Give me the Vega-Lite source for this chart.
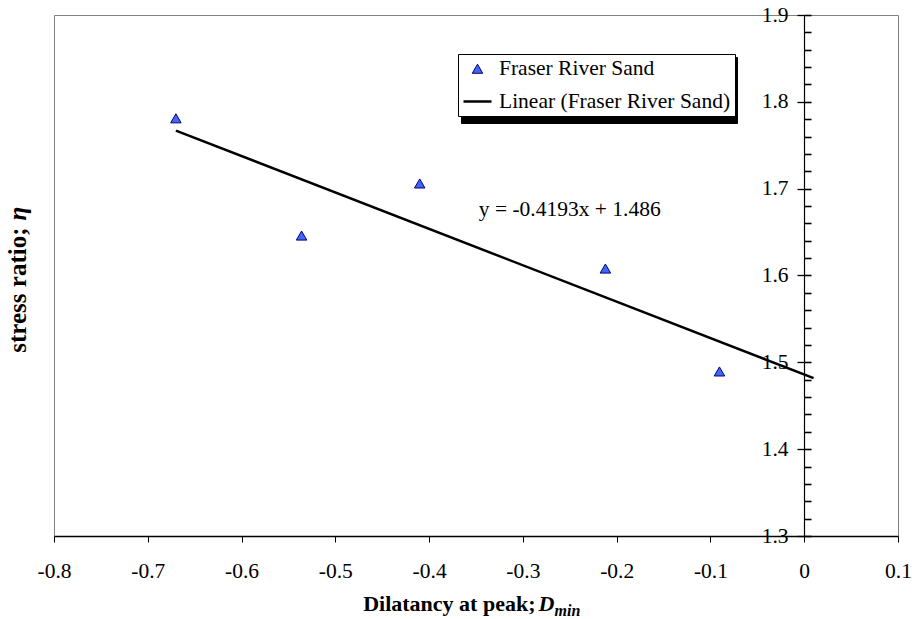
{
  "$schema": "https://vega.github.io/schema/vega-lite/v6.json",
  "width": 844,
  "height": 521,
  "autosize": {"type": "none"},
  "padding": {"left": 54, "top": 15, "right": 14, "bottom": 83},
  "background": "white",
  "config": {
    "view": {"stroke": "#808080", "strokeWidth": 1},
    "font": "Liberation Serif",
    "text": {"font": "Liberation Serif"},
    "axis": {"labelFont": "Liberation Serif", "titleFont": "Liberation Serif", "labelColor": "black", "titleColor": "black", "domainColor": "black", "tickColor": "black", "grid": false, "labelFlush": false, "labelOverlap": false},
    "legend": {"labelFont": "Liberation Serif", "titleFont": "Liberation Serif"}
  },
  "resolve": {"axis": {"x": "independent", "y": "independent"}},
  "layer": [
    {
      "data": {"values": [
        {"series": "Fraser River Sand", "x": -0.670, "y": 1.781},
        {"series": "Fraser River Sand", "x": -0.536, "y": 1.646},
        {"series": "Fraser River Sand", "x": -0.410, "y": 1.706},
        {"series": "Fraser River Sand", "x": -0.212, "y": 1.608},
        {"series": "Fraser River Sand", "x": -0.0904, "y": 1.4895}
      ]},
      "mark": {"type": "point", "filled": true, "fill": "#4466EE", "opacity": 1},
      "encoding": {
        "x": {"field": "x", "type": "quantitative", "scale": {"domain": [-0.8, 0.1], "nice": false, "zero": false},
          "axis": {"orient": "bottom", "values": [-0.8, -0.7, -0.6, -0.5, -0.4, -0.3, -0.2, -0.1, 0, 0.1], "format": ".1~f",
            "labelExpr": "replace(datum.label, '\u2212', '-')", "labelFont": "Liberation Serif", "labelFontSize": 21.5, "labelPadding": 18, "labelFlush": false, "labelOverlap": false, "tickSize": 6, "domainWidth": 1.5,
            "title": "Dilatancy at peak;", "titleFont": "Liberation Serif", "titleFontSize": 22, "titleFontWeight": "bold", "titleX": 481, "titleY": 74, "titleAlign": "right", "titleBaseline": "alphabetic", "titleAngle": 0}},
        "y": {"field": "y", "type": "quantitative", "scale": {"domain": [1.3, 1.9], "nice": false, "zero": false},
          "axis": {"orient": "left", "offset": -750, "values": [1.3, 1.4, 1.5, 1.6, 1.7, 1.8, 1.9], "format": ".1f",
            "labelFont": "Liberation Serif", "labelFontSize": 21.5, "labelPadding": 9, "labelFlush": false, "labelOverlap": false,
            "tickSize": 7, "tickWidth": 1.3, "domainWidth": 1.2,
            "title": "stress ratio;", "titleFont": "Liberation Serif", "titleFontSize": 25, "titleFontWeight": "bold", "titleAngle": -90, "titleX": -779, "titleY": 212, "titleAlign": "right", "titleBaseline": "alphabetic"}},
        "shape": {"field": "series", "type": "nominal",
          "scale": {"domain": ["Fraser River Sand", "Linear (Fraser River Sand)"], "range": ["triangle-up", "stroke"]},
          "legend": {"orient": "none", "legendX": 404, "legendY": 39, "title": null, "padding": 4, "rowPadding": 6, "labelOffset": 6, "symbolSize": 784, "zindex": 2,
            "labelFont": "Liberation Serif", "labelFontSize": 21.5, "labelColor": "black", "labelLimit": 400, "strokeColor": "black", "fillColor": "white", "symbolFillColor": "#4466EE", "symbolOpacity": 1}},
        "stroke": {"field": "series", "type": "nominal",
          "scale": {"domain": ["Fraser River Sand", "Linear (Fraser River Sand)"], "range": ["#000080", "#000000"]}},
        "strokeWidth": {"field": "series", "type": "nominal",
          "scale": {"domain": ["Fraser River Sand", "Linear (Fraser River Sand)"], "range": [1, 2.5]}},
        "size": {"field": "series", "type": "nominal",
          "scale": {"domain": ["Fraser River Sand", "Linear (Fraser River Sand)"], "range": [110, 784]}}
      }
    },
    {
      "data": {"values": [
        {"shadow": "s2", "x": -0.67, "y": 1.7669},
        {"shadow": "s2", "x": 0.01, "y": 1.4818}
      ]},
      "mark": {"type": "line", "color": "black", "strokeWidth": 2.5},
      "encoding": {
        "x": {"field": "x", "type": "quantitative",
          "axis": {"orient": "bottom", "labels": false, "ticks": false, "domain": false,
            "title": "D", "titleFont": "Liberation Serif", "titleFontSize": 22, "titleFontWeight": "bold", "titleFontStyle": "italic", "titleX": 484, "titleY": 74, "titleAlign": "left", "titleBaseline": "alphabetic", "titleAngle": 0}},
        "y": {"field": "y", "type": "quantitative",
          "axis": {"orient": "right", "offset": -94, "values": [1.3, 1.32, 1.34, 1.36, 1.38, 1.4, 1.42, 1.44, 1.46, 1.48, 1.5, 1.52, 1.54, 1.56, 1.58, 1.6, 1.62, 1.64, 1.66, 1.68, 1.7, 1.72, 1.74, 1.76, 1.78, 1.8, 1.82, 1.84, 1.86, 1.88, 1.9],
            "labels": false, "domain": false, "ticks": true, "tickSize": 7, "tickWidth": 1.6, "tickColor": "#000000", "tickOpacity": 1,
            "title": "η", "titleFont": "Liberation Serif", "titleFontSize": 25, "titleFontWeight": "bold", "titleFontStyle": "italic", "titleAngle": -90, "titleX": -779, "titleY": 205, "titleAlign": "left", "titleBaseline": "alphabetic"}},
        "opacity": {"field": "shadow", "type": "nominal",
          "scale": {"domain": ["s1", "s2"], "range": [1, 1]},
          "legend": {"orient": "none", "legendX": 407, "legendY": 42, "title": null, "padding": 4, "rowPadding": 6, "labelOffset": 6, "symbolSize": 784, "zindex": 1,
            "labelExpr": "datum.value === 's1' ? 'Fraser River Sand' : 'Linear (Fraser River Sand)'",
            "labelFont": "Liberation Serif", "labelFontSize": 21.5, "labelColor": "black", "labelOpacity": 0, "labelLimit": 400, "strokeColor": "black", "fillColor": "black", "symbolStrokeColor": "black", "symbolFillColor": "black", "symbolType": "stroke"}}
      }
    },
    {
      "data": {"values": [
        {"x": -0.347, "y": 1.676, "label": "y = -0.4193x + 1.486"}
      ]},
      "mark": {"type": "text", "align": "left", "baseline": "middle", "font": "Liberation Serif", "fontSize": 21.5, "color": "black"},
      "encoding": {
        "x": {"field": "x", "type": "quantitative",
          "axis": {"orient": "bottom", "labels": false, "ticks": false, "domain": false,
            "title": "min", "titleFont": "Liberation Serif", "titleFontSize": 16, "titleFontWeight": "bold", "titleFontStyle": "italic", "titleX": 500, "titleY": 79, "titleAlign": "left", "titleBaseline": "alphabetic", "titleAngle": 0}},
        "y": {"field": "y", "type": "quantitative", "axis": null},
        "text": {"field": "label"}
      }
    }
  ]
}
